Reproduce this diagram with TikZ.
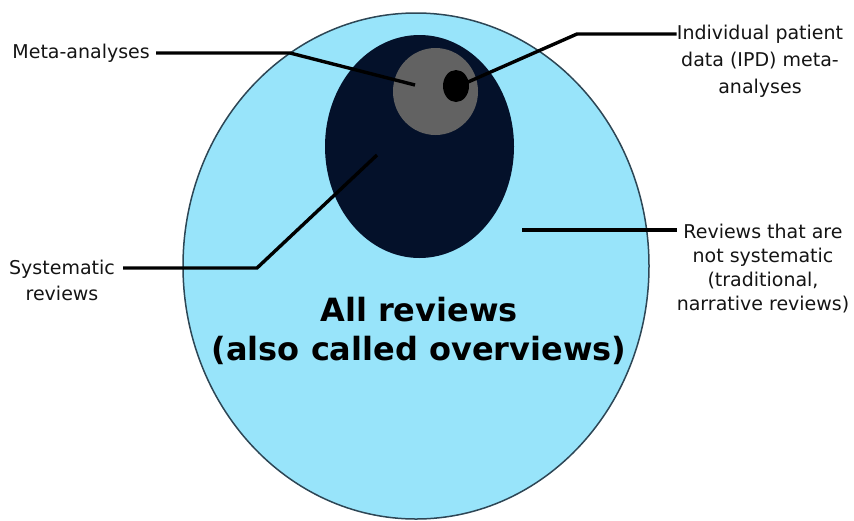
\documentclass[tikz,border=0pt]{standalone}
\usepackage{fontspec}
\setmainfont{DejaVu Sans}
\usetikzlibrary{shapes.geometric}
\definecolor{skyfill}{RGB}{152,228,250}
\definecolor{navyfill}{RGB}{4,17,42}
\definecolor{greyfill}{RGB}{98,98,98}
\definecolor{rimcol}{RGB}{45,70,85}
\definecolor{txtcol}{RGB}{20,20,20}
\tikzset{
  blob/.style={ellipse, inner sep=0pt, draw=none},
  lbl/.style={font=\fontsize{19}{26}\selectfont, text=txtcol, align=center, inner sep=0pt},
  leader/.style={draw=black, line width=3.4pt, line join=miter}
}
\begin{document}
\begin{tikzpicture}[x=1pt,y=-1pt]
\useasboundingbox (0,0) rectangle (854,520);
\node[blob, fill=skyfill, draw=rimcol, line width=1.5pt, minimum width=466pt, minimum height=506pt] (all) at (416,266) {};
\node[blob, fill=navyfill, minimum width=189pt, minimum height=223pt] (sys) at (419.5,146.5) {};
\node[blob, fill=greyfill, minimum width=85pt, minimum height=87pt] (meta) at (435.5,91.5) {};
\node[blob, fill=black, minimum width=26pt, minimum height=32pt] (ipd) at (456,86) {};
\node[font=\bfseries\fontsize{32}{39}\selectfont, align=center, text=black] (main) at (419,331) {All reviews\\(also called overviews)};
\node[lbl, anchor=east] (lmeta) at (150,53) {Meta-analyses};
\node[lbl, font=\fontsize{19}{27}\selectfont] (lipd) at (760,61) {Individual patient\\data (IPD) meta-\\analyses};
\node[lbl] (lsys) at (62,280) {Systematic\\reviews};
\node[lbl, font=\fontsize{19}{24}\selectfont] (lnon) at (763,269) {Reviews that are\\not systematic\\(traditional,\\narrative reviews)};
\coordinate (pmeta) at (415,85);
\coordinate (pipd) at (468,82);
\coordinate (psys) at (377,155);
\coordinate (pnon) at (522,230);
\draw[leader] (lmeta.east) ++(6,0) -- (290,53) -- (pmeta);
\draw[leader] (pipd) -- (577,34) -- (lipd.west |- 0,34);
\draw[leader] (lsys.east |- 0,268) ++(8,0) -- (257,268) -- (psys);
\draw[leader] (pnon) -- (lnon.west |- 0,230);
\end{tikzpicture}
\end{document}
